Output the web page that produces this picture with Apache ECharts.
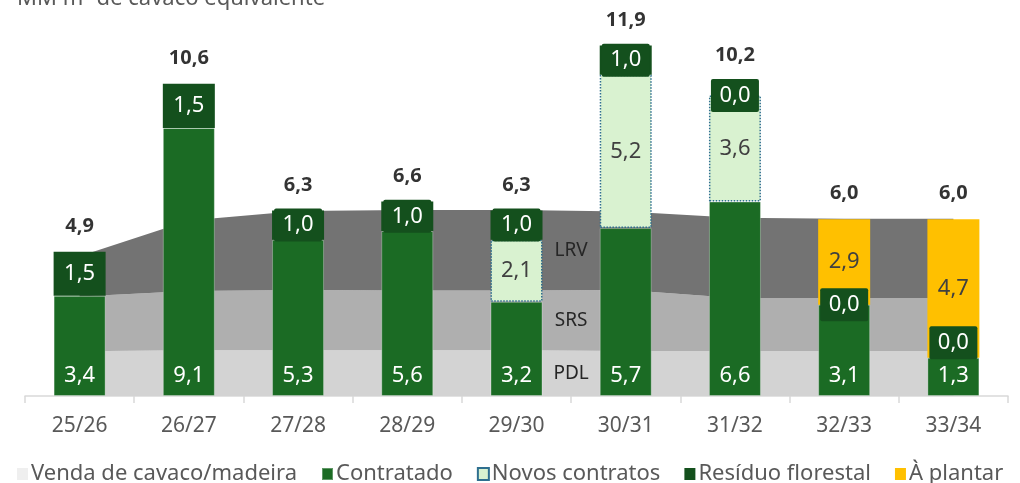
<!DOCTYPE html>
<html>
<head>
<meta charset="utf-8">
<script src="https://cdn.jsdelivr.net/npm/echarts@6/dist/echarts.min.js"></script>
<style>
  html, body { margin: 0; padding: 0; background: #ffffff; }
  #chart { width: 1020px; height: 483px; }
</style>
</head>
<body>
<div id="chart"></div>
<script>
// Harvest years
const categories = ['25/26', '26/27', '27/28', '28/29', '29/30', '30/31', '31/32', '32/33', '33/34'];

// Supply stack (MM m³ of chip equivalent)
const contratado = [3.4, 9.1, 5.3, 5.6, 3.2, 5.7, 6.6, 3.1, 1.3];
const novosContratos = [null, null, null, null, 2.1, 5.2, 3.6, null, null];
const residuoFlorestal = [1.5, 1.5, 1.0, 1.0, 1.0, 1.0, 0.0, 0.0, 0.0];
const aPlantar = [null, null, null, null, null, null, null, 2.9, 4.7];

// Chip/wood sales by mill, stacked in the background
const vendaPDL = [1.52, 1.55, 1.55, 1.55, 1.55, 1.53, 1.53, 1.53, 1.53];
const vendaSRS = [1.86, 2.01, 2.05, 2.03, 2.03, 2.07, 1.80, 1.80, 1.80];
const vendaLRV = [1.36, 2.40, 2.68, 2.73, 2.73, 2.66, 2.72, 2.69, 2.69];
const areaNames = ['PDL', 'SRS', 'LRV'];

const totals = categories.map((_, i) =>
  [contratado, novosContratos, residuoFlorestal, aPlantar]
    .reduce((s, arr) => s + (arr[i] || 0), 0));

const fmt = v => Number(v).toFixed(1).replace('.', ',');
const FONT = 'Noto Sans';
const VENDA = 'Venda de cavaco/madeira';

const chart = echarts.init(document.getElementById('chart'), null, { renderer: 'canvas' });

function areaSeries(values, color) {
  return {
    name: VENDA,
    type: 'line',
    stack: 'venda',
    data: values,
    symbol: 'none',
    lineStyle: { width: 0 },
    areaStyle: { color: color, opacity: 1 },
    itemStyle: { color: color },
    z: 1,
    silent: true
  };
}

const insideLabel = (color) => ({
  show: true,
  color: color,
  fontFamily: FONT,
  fontSize: 22,
  formatter: p => fmt(p.value)
});

// A zero residue box on top of a stack pokes above the bar, so lift the total over it
const totalData = totals.map((v, i) =>
  (residuoFlorestal[i] === 0 && aPlantar[i] == null)
    ? { value: v, label: { distance: 30 } } : v);

chart.setOption({
  animation: false,
  textStyle: { fontFamily: FONT },
  title: {
    text: 'MM m³ de cavaco equivalente',
    left: 12,
    top: -17,
    textStyle: { fontFamily: FONT, fontSize: 22, fontWeight: 'normal', color: '#595959' }
  },
  grid: { left: 25, right: 12, top: 13, bottom: 87 },
  legend: {
    left: 12,
    right: 0,
    top: 458,
    icon: 'rect',
    itemWidth: 11,
    itemHeight: 12,
    itemGap: 24,
    textStyle: { fontFamily: FONT, fontSize: 22, color: '#595959', padding: [0, 0, 0, -2] },
    data: [
      { name: VENDA, itemStyle: { color: '#efefef' } },
      'Contratado', 'Novos contratos', 'Resíduo florestal', 'À plantar'
    ]
  },
  xAxis: {
    type: 'category',
    data: categories,
    boundaryGap: true,
    axisLine: { lineStyle: { color: '#d9d9d9', width: 1.5 } },
    axisTick: { show: true, length: 7, lineStyle: { color: '#d9d9d9', width: 1.5 } },
    axisLabel: { fontFamily: FONT, fontSize: 21, color: '#595959', margin: 20 }
  },
  yAxis: {
    type: 'value',
    min: 0,
    max: 13,
    show: false,
    splitLine: { show: false }
  },
  series: [
    areaSeries(vendaPDL, '#d3d3d3'),
    areaSeries(vendaSRS, '#afafaf'),
    areaSeries(vendaLRV, '#737373'),
    {
      name: 'Contratado',
      type: 'bar',
      stack: 'oferta',
      barWidth: 52,
      data: contratado,
      itemStyle: { color: '#1b6b24', borderColor: 'rgba(255,255,255,0.3)', borderWidth: 1 },
      label: Object.assign(insideLabel('#ffffff'), { position: 'insideBottom', distance: 9 }),
      z: 3
    },
    {
      name: 'Novos contratos',
      type: 'bar',
      stack: 'oferta',
      barWidth: 52,
      data: novosContratos,
      itemStyle: { color: '#d9f2d0', borderColor: '#2f6f8f', borderType: 'dotted', borderWidth: 1.5 },
      label: Object.assign(insideLabel('#404040'), { position: 'inside' }),
      z: 3
    },
    {
      name: 'Resíduo florestal',
      type: 'bar',
      stack: 'oferta',
      barWidth: 52,
      // the last year's box sits above its short "Contratado" segment
      data: residuoFlorestal.map((v, i) => i === residuoFlorestal.length - 1
        ? { value: v, label: { offset: [0, -15] } } : v),
      itemStyle: { color: '#14501d' },
      label: Object.assign(insideLabel('#ffffff'), {
        position: 'inside',
        backgroundColor: '#14501d',
        width: 48,
        height: 33,
        lineHeight: 33,
        align: 'center',
        verticalAlign: 'middle',
        borderRadius: 2
      }),
      z: 4
    },
    {
      name: 'À plantar',
      type: 'bar',
      stack: 'oferta',
      barWidth: 52,
      data: aPlantar,
      itemStyle: { color: '#ffc000' },
      label: Object.assign(insideLabel('#404040'), { position: 'inside' }),
      z: 3
    },
    {
      name: 'Total',
      type: 'scatter',
      data: totalData,
      symbolSize: 1,
      itemStyle: { color: 'rgba(0,0,0,0)' },
      label: {
        show: true,
        position: 'top',
        distance: 15,
        fontFamily: FONT,
        fontSize: 20,
        fontWeight: 'bold',
        color: '#000000',
        formatter: p => fmt(p.value)
      },
      z: 5,
      silent: true
    }
  ]
});

// Mill names, centred in each band between 29/30 and 30/31
function placeAreaLabels() {
  const i = 4;
  const x = (chart.convertToPixel({ xAxisIndex: 0 }, categories[i]) +
             chart.convertToPixel({ xAxisIndex: 0 }, categories[i + 1])) / 2;
  const layers = [vendaPDL, vendaSRS, vendaLRV];
  let base = 0;
  const elements = layers.map((arr, k) => {
    const h = (arr[i] + arr[i + 1]) / 2;
    const mid = base + h / 2;
    base += h;
    return {
      type: 'text',
      x: x,
      y: chart.convertToPixel({ yAxisIndex: 0 }, mid),
      z: 10,
      style: {
        text: areaNames[k],
        fontFamily: FONT,
        fontSize: 19,
        fill: '#262626',
        align: 'center',
        verticalAlign: 'middle'
      }
    };
  });
  chart.setOption({ graphic: elements });
}
placeAreaLabels();
</script>
</body>
</html>
